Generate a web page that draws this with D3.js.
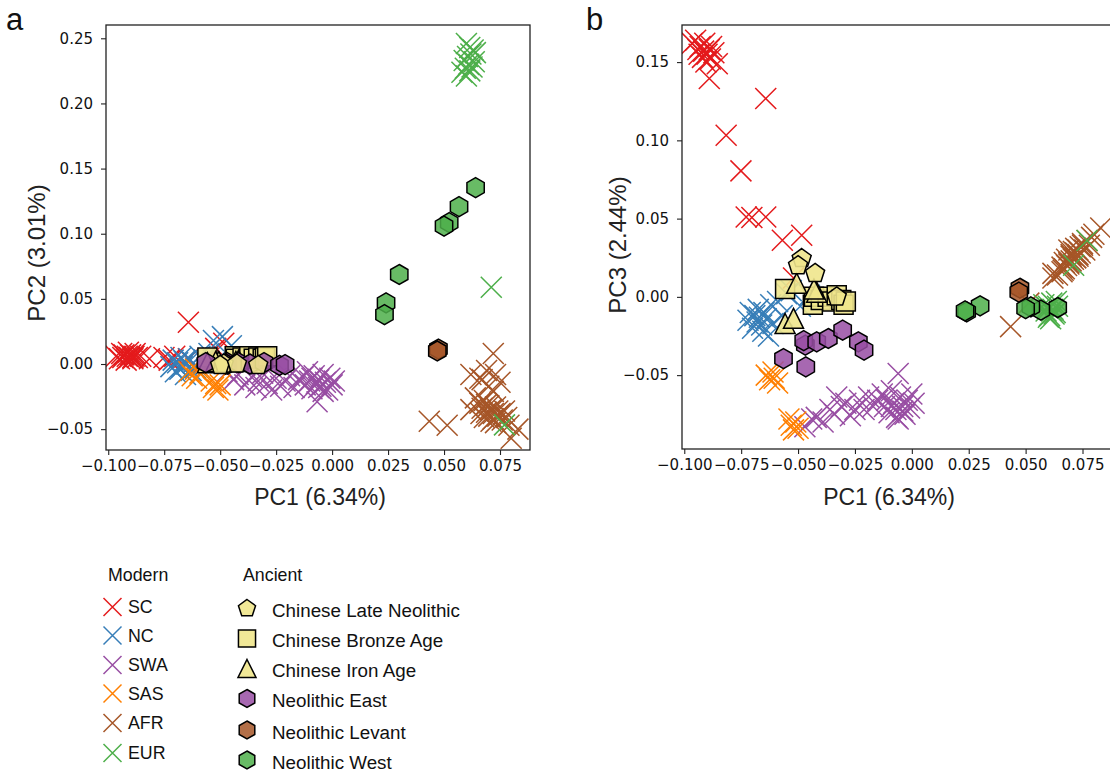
<!DOCTYPE html>
<html><head><meta charset="utf-8">
<script src="https://cdn.jsdelivr.net/npm/d3@7"></script>
<style>body{margin:0;background:#fff}</style>
</head><body><svg id="c" width="1110" height="772"></svg>
<script>
// ---- DATA: each point is [PC1, PC2, PC3] ----
const SC = [
  [-0.0965,0.006,0.162],[-0.095,0.004,0.164],[-0.094,0.008,0.158],[-0.0935,0.005,0.155],
  [-0.093,0.007,0.160],[-0.092,0.003,0.153],[-0.0915,0.006,0.157],[-0.091,0.009,0.162],
  [-0.0905,0.005,0.150],[-0.090,0.007,0.155],[-0.089,0.004,0.158],[-0.0885,0.006,0.152],
  [-0.088,0.008,0.160],[-0.087,0.005,0.156],[-0.0855,0.006,0.149],[-0.089,0.005,0.1395],
  [-0.0816,0.004,0.1033],[-0.0751,0.005,0.0805],[-0.0728,0.003,0.051],[-0.0703,0.006,0.0507],
  [-0.0642,0.004,0.051],[-0.0569,0.002,0.0362],[-0.0484,0.016,0.0394],[-0.0642,0.032,0.1267],
  [-0.052,0.012,0.012]
];
const NC = [
  [-0.072,-0.002,-0.015],[-0.071,0.003,-0.010],[-0.070,-0.006,-0.020],[-0.069,0.001,-0.012],
  [-0.068,-0.004,-0.016],[-0.0675,0.005,-0.008],[-0.067,-0.002,-0.013],[-0.066,0.002,-0.018],
  [-0.0655,-0.008,-0.022],[-0.065,0.000,-0.010],[-0.064,0.004,-0.014],[-0.063,-0.005,-0.025],
  [-0.062,0.001,-0.005],[-0.061,-0.003,-0.017],[-0.059,0.006,-0.003],[-0.057,0.003,-0.012],
  [-0.055,0.008,0.002],[-0.053,0.018,0.004],[-0.049,0.021,-0.006],[-0.045,0.014,0.001]
];
const SWA = [
  [-0.047,-0.006,-0.083],[-0.044,-0.012,-0.078],[-0.042,-0.008,-0.077],[-0.039,-0.016,-0.080],
  [-0.036,-0.010,-0.072],[-0.034,-0.018,-0.075],[-0.033,-0.013,-0.064],[-0.031,-0.007,-0.070],
  [-0.029,-0.015,-0.068],[-0.027,-0.020,-0.076],[-0.025,-0.011,-0.072],[-0.023,-0.017,-0.066],
  [-0.021,-0.013,-0.072],[-0.019,-0.009,-0.064],[-0.017,-0.018,-0.070],[-0.015,-0.012,-0.066],
  [-0.013,-0.010,-0.062],[-0.012,-0.016,-0.070],[-0.011,-0.006,-0.066],[-0.010,-0.013,-0.074],
  [-0.009,-0.019,-0.060],[-0.008,-0.009,-0.068],[-0.007,-0.015,-0.072],[-0.0067,-0.029,-0.077],
  [-0.006,-0.012,-0.049],[-0.005,-0.017,-0.064],[-0.004,-0.008,-0.070],[-0.003,-0.014,-0.075],
  [-0.002,-0.020,-0.066],[-0.001,-0.011,-0.071],[0.000,-0.016,-0.062],[0.001,-0.013,-0.068],
  [-0.006,-0.018,-0.078],[-0.009,-0.011,-0.070],[-0.004,-0.021,-0.073]
];
const SAS = [
  [-0.064,-0.006,-0.050],[-0.0625,-0.009,-0.053],[-0.061,-0.004,-0.048],[-0.0605,-0.011,-0.052],
  [-0.059,-0.007,-0.055],[-0.054,-0.013,-0.078],[-0.053,-0.018,-0.082],[-0.052,-0.015,-0.085],
  [-0.051,-0.020,-0.080],[-0.050,-0.016,-0.084]
];
const AFR = [
  [0.072,0.008,0.025],[0.069,-0.005,0.022],[0.073,-0.008,0.030],[0.067,-0.012,0.018],
  [0.075,-0.014,0.033],[0.070,-0.017,0.026],[0.066,-0.011,0.016],[0.072,-0.021,0.028],
  [0.062,-0.008,0.015],[0.064,-0.026,0.014],[0.066,-0.030,0.019],[0.067,-0.034,0.022],
  [0.068,-0.028,0.024],[0.069,-0.037,0.021],[0.070,-0.032,0.027],[0.070,-0.040,0.023],
  [0.071,-0.035,0.029],[0.072,-0.038,0.025],[0.072,-0.042,0.031],[0.073,-0.033,0.027],
  [0.074,-0.036,0.032],[0.074,-0.040,0.028],[0.075,-0.038,0.034],[0.076,-0.043,0.030],
  [0.077,-0.036,0.036],[0.078,-0.041,0.033],[0.068,-0.041,0.020],[0.071,-0.044,0.024],
  [0.073,-0.045,0.026],[0.0665,-0.038,0.017],[0.069,-0.031,0.030],[0.0434,-0.044,-0.019],
  [0.0514,-0.047,-0.004],[0.080,-0.057,0.040],[0.083,-0.050,0.044],[0.062,-0.035,0.012],
  [0.079,-0.047,0.038]
];
const EUR = [
  [0.0600,0.246,-0.006],[0.0615,0.243,-0.004],[0.0630,0.241,-0.010],[0.0620,0.238,-0.008],
  [0.0605,0.236,-0.012],[0.0640,0.239,-0.006],[0.0590,0.233,-0.009],[0.0610,0.230,-0.014],
  [0.0595,0.227,-0.007],[0.0625,0.228,-0.011],[0.0580,0.224,-0.005],[0.0600,0.221,-0.013],
  [0.0615,0.225,-0.009],[0.0635,0.232,-0.003],[0.0711,0.0589,0.0202],[0.077,-0.0467,0.036]
];
const LateNeolithic = [
  [-0.0484,0.000,0.0245],[-0.0500,-0.001,0.0200],[-0.0425,0.000,0.0150],[-0.0330,-0.001,0.0000]
];
const BronzeAge = [
  [-0.0557,0.005,0.005],[-0.0435,0.006,-0.005],[-0.043,0.004,0.000],[-0.040,0.005,-0.002],
  [-0.037,0.006,0.000],[-0.035,0.004,-0.003],[-0.033,0.005,0.001],[-0.031,0.004,-0.002],
  [-0.030,0.005,-0.005],[-0.029,0.006,-0.003]
];
const IronAge = [
  [-0.0506,0.002,0.0087],[-0.0418,0.003,0.0030],[-0.0430,0.002,0.0050],
  [-0.0557,0.001,-0.0170],[-0.0520,0.002,-0.0137]
];
const NeoEast = [
  [-0.0564,0.001,-0.0394],[-0.0466,0.000,-0.0447],[-0.0468,0.001,-0.0308],[-0.0475,0.000,-0.028],
  [-0.0418,0.001,-0.0287],[-0.0367,0.000,-0.0266],[-0.0304,0.001,-0.0213],[-0.0235,-0.001,-0.0287],
  [-0.0210,-0.0005,-0.034]
];
const NeoLevant = [[0.0475,0.0115,0.0055],[0.047,0.0100,0.003]];
const NeoWest = [
  [0.0641,0.1354,-0.0068],[0.0567,0.1208,-0.0085],[0.0523,0.1085,-0.0064],[0.0500,0.1058,-0.0075],
  [0.0300,0.0687,-0.0057],[0.0241,0.0469,-0.0096],[0.0234,0.0379,-0.0090]
];
const xTicks = [-0.1,-0.075,-0.05,-0.025,0,0.025,0.05,0.075];
const yTicksA = [-0.05,0,0.05,0.1,0.15,0.2,0.25];
const yTicksB = [-0.05,0,0.05,0.1,0.15];

const modern = [
  {name:"SC", color:"#e41a1c", data:SC},
  {name:"NC", color:"#377eb8", data:NC},
  {name:"SWA", color:"#984ea3", data:SWA},
  {name:"SAS", color:"#ff7f00", data:SAS},
  {name:"AFR", color:"#a65628", data:AFR},
  {name:"EUR", color:"#4daf4a", data:EUR}
];
const ancient = [
  {name:"Chinese Late Neolithic", shape:"pentagon", color:"#f0e68c", data:LateNeolithic},
  {name:"Chinese Bronze Age", shape:"square", color:"#f0e68c", data:BronzeAge},
  {name:"Chinese Iron Age", shape:"triangle", color:"#f0e68c", data:IronAge},
  {name:"Neolithic East", shape:"hexagon", color:"#984ea3", data:NeoEast},
  {name:"Neolithic Levant", shape:"hexagon", color:"#a65628", data:NeoLevant},
  {name:"Neolithic West", shape:"hexagon", color:"#4daf4a", data:NeoWest}
];
// draw order of ancient groups (bottom to top)
const drawOrder = [1,2,3,0,4,5];

// ---- shapes ----
function xPath(h){ return `M${-h},${-h}L${h},${h}M${-h},${h}L${h},${-h}`; }
function poly(n, r, rot){
  const pts=[]; for(let i=0;i<n;i++){const a=rot+i*2*Math.PI/n; pts.push([r*Math.cos(a), r*Math.sin(a)]);}
  return "M"+pts.map(p=>p[0].toFixed(2)+","+p[1].toFixed(2)).join("L")+"Z";
}
function shapePath(shape, ms){
  if(shape==="pentagon") return poly(5, ms/2, -Math.PI/2);
  if(shape==="hexagon") return poly(6, ms/2, -Math.PI/2);
  if(shape==="square") { const h=ms/2*0.95; return `M${-h},${-h}H${h}V${h}H${-h}Z`; }
  if(shape==="triangle") { const h=ms/2; return `M0,${-h}L${h},${h}L${-h},${h}Z`; }
}
const fillOpacity = {pentagon:0.9, square:0.9, triangle:0.9, hexagon:0.85};

const svg = d3.select("#c");
svg.append("rect").attr("width",1110).attr("height",772).attr("fill","#fff");
const defs = svg.append("defs");

function panel(id, x0, x1, y0, y1, yDomain, yTicks, yIdx, yLabel, yLabelPos, xLabelPos, letter){
  const x = d3.scaleLinear().domain([-0.101, 0.0884]).range([x0, x1]);
  const y = d3.scaleLinear().domain(yDomain).range([y1, y0]);
  defs.append("clipPath").attr("id","clip"+id).append("rect")
    .attr("x",x0).attr("y",y0).attr("width",x1-x0).attr("height",y1-y0);
  const g = svg.append("g").attr("clip-path",`url(#clip${id})`);
  modern.forEach(m=>{
    g.selectAll(null).data(m.data).enter().append("path")
      .attr("d", xPath(10.5))
      .attr("transform", d=>`translate(${x(d[0])},${y(d[yIdx])})`)
      .attr("fill","none").attr("stroke", m.color).attr("stroke-width",1.5);
  });
  drawOrder.forEach(i=>{
    const a = ancient[i];
    g.selectAll(null).data(a.data).enter().append("path")
      .attr("d", shapePath(a.shape, 20))
      .attr("transform", d=>`translate(${x(d[0])},${y(d[yIdx])})`)
      .attr("fill", a.color).attr("fill-opacity", fillOpacity[a.shape])
      .attr("stroke","#000").attr("stroke-width",1.5).attr("stroke-linejoin","miter");
  });
  // frame
  svg.append("rect").attr("x",x0).attr("y",y0).attr("width",x1-x0).attr("height",y1-y0)
    .attr("fill","none").attr("stroke","#222").attr("stroke-width",1.3);
  // axes
  const ax = svg.append("g").attr("transform",`translate(0,${y1})`)
    .call(d3.axisBottom(x).tickValues(xTicks).tickFormat(d3.format(".3f")).tickSize(5).tickPadding(5));
  const ay = svg.append("g").attr("transform",`translate(${x0},0)`)
    .call(d3.axisLeft(y).tickValues(yTicks).tickFormat(d3.format(".2f")).tickSize(5).tickPadding(8));
  [ax, ay].forEach(a=>{
    a.select(".domain").remove();
    a.selectAll("line").attr("stroke","#222").attr("stroke-width",1.1);
    a.selectAll("text").attr("fill","#111").style("font-family","DejaVu Sans").style("font-size","15px");
  });
  svg.append("text").attr("x",xLabelPos[0]).attr("y",xLabelPos[1]).attr("text-anchor","middle")
    .style("font-family","Liberation Sans, Arial, sans-serif").style("font-size","23px").attr("fill","#222")
    .text("PC1 (6.34%)");
  svg.append("text").attr("transform",`translate(${yLabelPos[0]},${yLabelPos[1]}) rotate(-90)`)
    .attr("text-anchor","middle").attr("dy","0.36em")
    .style("font-family","Liberation Sans, Arial, sans-serif").style("font-size","24px").attr("fill","#222")
    .text(yLabel);
  svg.append("text").attr("x",letter[1]).attr("y",letter[2])
    .style("font-family","Liberation Sans, Arial, sans-serif").style("font-size","31px").attr("fill","#111")
    .text(letter[0]);
}

panel("a", 106, 530, 25, 450, [-0.0660, 0.2602], yTicksA, 1, "PC2 (3.01%)", [36, 253], [320, 505], ["a", 6, 30]);
panel("b", 682, 1113, 25, 449, [-0.0972, 0.1737], yTicksB, 2, "PC3 (2.44%)", [617, 245], [889, 505], ["b", 586, 30]);

// ---- legend ----
const lf = "Liberation Sans, Arial, sans-serif";
const leg = svg.append("g");
leg.append("text").attr("x",108).attr("y",581).style("font-family",lf).style("font-size","17.8px").attr("fill","#111").text("Modern");
leg.append("text").attr("x",243).attr("y",581).style("font-family",lf).style("font-size","17.8px").attr("fill","#111").text("Ancient");
const modernRows = [607, 635.5, 665, 693.5, 723, 753];
modern.forEach((m,i)=>{
  leg.append("path").attr("d", xPath(9)).attr("transform",`translate(112.5,${modernRows[i]})`)
    .attr("fill","none").attr("stroke",m.color).attr("stroke-width",1.5);
  leg.append("text").attr("x",128).attr("y",modernRows[i]).attr("dy","0.36em")
    .style("font-family",lf).style("font-size","17.8px").attr("fill","#111").text(m.name);
});
const ancientRows = [608.5, 638.5, 668.5, 698.5, 730, 760];
ancient.forEach((a,i)=>{
  leg.append("path").attr("d", shapePath(a.shape, 18)).attr("transform",`translate(247,${ancientRows[i]})`)
    .attr("fill",a.color).attr("fill-opacity",fillOpacity[a.shape]).attr("stroke","#000").attr("stroke-width",1.5);
  leg.append("text").attr("x",272).attr("y",ancientRows[i]+2).attr("dy","0.36em")
    .style("font-family",lf).style("font-size","18.8px").attr("fill","#111").text(a.name);
});
</script></body></html>
